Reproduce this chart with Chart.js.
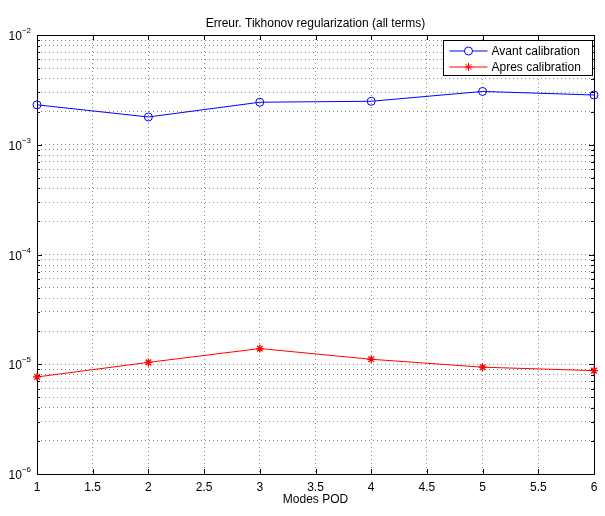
<!DOCTYPE html>
<html>
<head>
<meta charset="utf-8">
<script src="https://cdn.jsdelivr.net/npm/chart.js@4"></script>
<style>
  html, body { margin: 0; padding: 0; background: #fff; }
  #wrap { width: 605px; height: 516px; }
</style>
</head>
<body>
<div id="wrap"><canvas id="chart"></canvas></div>
<script>
// données
const modes = [1, 2, 3, 4, 5, 6];
const avant = [2.31e-3, 1.79e-3, 2.44e-3, 2.49e-3, 3.06e-3, 2.84e-3];
const apres = [7.66e-6, 1.04e-5, 1.39e-5, 1.11e-5, 9.4e-6, 8.75e-6];
const xTicks = [1, 1.5, 2, 2.5, 3, 3.5, 4, 4.5, 5, 5.5, 6];
const yDecades = [-6, -5, -4, -3, -2];
const titre = 'Erreur. Tikhonov regularization (all terms)';
const xLabel = 'Modes POD';
const noms = ['Avant calibration', 'Apres calibration'];

const FONT = '"Liberation Sans", Arial, Helvetica, sans-serif';

// graduations log : 1..9 x 10^n
const yTicks = [];
for (let i = 0; i < yDecades.length - 1; i++) {
  for (let m = 1; m <= 9; m++) yTicks.push(m * Math.pow(10, yDecades[i]));
}
yTicks.push(Math.pow(10, yDecades[yDecades.length - 1]));

const pts = arr => arr.map((v, i) => ({ x: modes[i], y: v }));

// cadre, graduations intérieures, textes et légende façon MATLAB
const matlabPlugin = {
  id: 'matlab',
  beforeDatasetsDraw(chart) {
    const { ctx, chartArea: a, scales: { x, y } } = chart;
    ctx.save();
    ctx.strokeStyle = '#000';
    ctx.lineWidth = 1;
    ctx.beginPath();
    xTicks.forEach(v => {
      const px = Math.round(x.getPixelForValue(v)) + 0.5;
      ctx.moveTo(px, a.bottom); ctx.lineTo(px, a.bottom - 5);
      ctx.moveTo(px, a.top); ctx.lineTo(px, a.top + 5);
    });
    yTicks.forEach(v => {
      const py = Math.round(y.getPixelForValue(v)) + 0.5;
      const major = Math.abs(Math.log10(v) - Math.round(Math.log10(v))) < 1e-9;
      const len = major ? 5 : 3;
      ctx.moveTo(a.left, py); ctx.lineTo(a.left + len, py);
      ctx.moveTo(a.right, py); ctx.lineTo(a.right - len, py);
    });
    ctx.stroke();
    ctx.strokeRect(Math.round(a.left) + 0.5, Math.round(a.top) + 0.5,
      Math.round(a.right - a.left), Math.round(a.bottom - a.top));
    ctx.restore();
  },
  afterDraw(chart) {
    const { ctx, chartArea: a, scales: { x, y } } = chart;
    ctx.save();
    ctx.fillStyle = '#000';

    // libellés x
    ctx.font = '12px ' + FONT;
    ctx.textAlign = 'center';
    ctx.textBaseline = 'alphabetic';
    xTicks.forEach(v => ctx.fillText(String(v), x.getPixelForValue(v), a.bottom + 17));
    ctx.fillText(xLabel, (a.left + a.right) / 2, a.bottom + 29);

    // libellés y en puissances de 10
    yDecades.forEach(e => {
      const py = y.getPixelForValue(Math.pow(10, e));
      const exp = '\u2212' + Math.abs(e);
      ctx.font = '8px ' + FONT;
      const we = ctx.measureText(exp).width;
      ctx.textAlign = 'left';
      ctx.fillText(exp, 31 - we, py - 2);
      ctx.font = '12px ' + FONT;
      ctx.textAlign = 'right';
      ctx.fillText('10', 31 - we, py + 5);
    });

    // titre
    ctx.font = '12px ' + FONT;
    ctx.textAlign = 'center';
    ctx.fillText(titre, (a.left + a.right) / 2, 27);

    // légende
    const bx = 443.5, by = 40.5, bw = 149, bh = 35;
    ctx.fillStyle = '#fff';
    ctx.fillRect(bx, by, bw, bh);
    ctx.strokeStyle = '#000';
    ctx.lineWidth = 1;
    ctx.strokeRect(bx, by, bw, bh);
    chart.data.datasets.forEach((ds, i) => {
      const ry = by + 10.5 + i * 16;
      ctx.strokeStyle = ds.borderColor;
      ctx.beginPath();
      ctx.moveTo(bx + 6, ry); ctx.lineTo(bx + 44, ry);
      ctx.stroke();
      Chart.helpers.drawPoint(ctx, {
        pointStyle: ds.pointStyle, radius: ds.pointRadius, borderWidth: 1
      }, bx + 25, ry);
      ctx.fillStyle = '#000';
      ctx.font = '12px ' + FONT;
      ctx.textAlign = 'left';
      ctx.textBaseline = 'middle';
      ctx.fillText(ds.label, bx + 48, ry + 0.5);
      ctx.textBaseline = 'alphabetic';
    });
    ctx.restore();
  }
};

const grille = {
  color: 'rgba(0,0,0,0.45)',
  lineWidth: 1,
  drawTicks: false
};

new Chart(document.getElementById('chart'), {
  type: 'line',
  data: {
    datasets: [{
      label: noms[0],
      data: pts(avant),
      borderColor: '#0000ff',
      backgroundColor: 'rgba(0,0,0,0)',
      borderWidth: 1,
      pointStyle: 'circle',
      pointRadius: 4,
      pointBorderWidth: 1,
      pointBorderColor: '#0000ff',
      pointBackgroundColor: 'rgba(0,0,0,0)',
      tension: 0,
      clip: false
    }, {
      label: noms[1],
      data: pts(apres),
      borderColor: '#ff0000',
      backgroundColor: 'rgba(0,0,0,0)',
      borderWidth: 1,
      pointStyle: 'star',
      pointRadius: 4,
      pointBorderWidth: 1.3,
      pointBorderColor: '#ff0000',
      pointBackgroundColor: 'rgba(0,0,0,0)',
      tension: 0,
      clip: false
    }]
  },
  options: {
    responsive: true,
    maintainAspectRatio: false,
    animation: false,
    devicePixelRatio: 1,
    layout: { padding: { left: 37, right: 11, top: 35, bottom: 42 } },
    plugins: {
      legend: { display: false },
      title: { display: false },
      tooltip: { enabled: false }
    },
    scales: {
      x: {
        type: 'linear',
        min: 1,
        max: 6,
        afterBuildTicks: s => { s.ticks = xTicks.map(v => ({ value: v })); },
        ticks: { display: false },
        grid: grille,
        border: { display: false, dash: [1, 3] },
        afterFit: s => { s.height = 0; }
      },
      y: {
        type: 'logarithmic',
        min: Math.pow(10, yDecades[0]),
        max: Math.pow(10, yDecades[yDecades.length - 1]),
        afterBuildTicks: s => { s.ticks = yTicks.map(v => ({ value: v })); },
        ticks: { display: false },
        grid: grille,
        border: { display: false, dash: [1, 3] },
        afterFit: s => { s.width = 0; }
      }
    }
  },
  plugins: [matlabPlugin]
});
</script>
</body>
</html>
